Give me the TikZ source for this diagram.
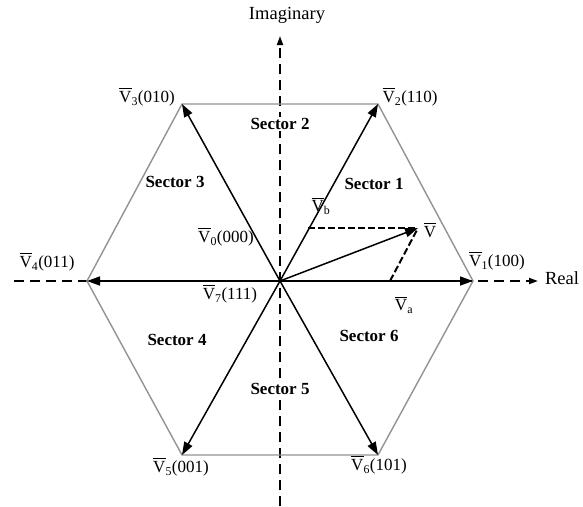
\documentclass[tikz,border=0pt]{standalone}
\usepackage{fontspec}
\setmainfont{Liberation Serif}
\usetikzlibrary{arrows.meta}
\newcommand{\ovV}{$\overline{\mbox{\rule{0pt}{1.62ex}V}}$}
\newcommand{\vlab}[1]{\ovV\textsubscript{#1}}
\begin{document}
\begin{tikzpicture}[x=1pt,y=-1pt,
  hexline/.style={draw=gray!85, line width=1.4pt},
  vecarrow/.style={draw=black, line width=1.5pt, -{Triangle[length=13pt,width=9pt]}},
  axisline/.style={draw=black, line width=1.8pt, dash pattern=on 10pt off 6pt},
  helper/.style={draw=black, line width=2pt, dash pattern=on 7pt off 3pt},
  lab/.style={font=\fontsize{17}{20}\selectfont, inner sep=1pt},
  axlab/.style={font=\fontsize{18.5}{22}\selectfont, inner sep=1pt},
  sec/.style={font=\bfseries\fontsize{17}{20}\selectfont, inner sep=1pt}]
\useasboundingbox (0,0) rectangle (583,506);
\fill[white] (0,0) rectangle (583,506);
% coordinates
\coordinate (O) at (280,281);
\coordinate (P1) at (473,281);
\coordinate (P2) at (378,104);
\coordinate (P3) at (182,104);
\coordinate (P4) at (87,281);
\coordinate (P5) at (182,455);
\coordinate (P6) at (378,455);
\coordinate (Vt) at (418,228);
\coordinate (Vbp) at (308,228);
\coordinate (Vap) at (390,281);
\coordinate (Ybot) at (280,506);
\coordinate (Ytop) at (280,36);
\coordinate (Xl) at (14,281);
\coordinate (Xr) at (538,281);
% axes
\draw[axisline, -{Triangle[length=9pt,width=6pt]}] (Ybot) -- (Ytop);
\draw[axisline, -{Triangle[length=9pt,width=6pt]}] (Xl) -- (Xr);
% hexagon
\draw[hexline] (P1) -- (P2) -- (P3) -- (P4) -- (P5) -- (P6) -- cycle;
% vectors
\foreach \p in {P1,P2,P3,P4,P5,P6} \draw[vecarrow] (O) -- (\p);
\draw[helper] (Vbp) -- (Vt);
\draw[helper] (Vap) -- (Vt);
\draw[vecarrow] (O) -- (Vt);
% labels
\node[axlab] (im) at (287,15) {Imaginary};
\node[axlab] (re) at (562,278) {Real};
\node[lab] (l1) at (497,261) {\vlab{1}(100)};
\node[lab] (l2) at (410,97) {\vlab{2}(110)};
\node[lab] (l3) at (147,97) {\vlab{3}(010)};
\node[lab] (l4) at (47,262) {\vlab{4}(011)};
\node[lab] (l5) at (181,467) {\vlab{5}(001)};
\node[lab] (l6) at (379,465) {\vlab{6}(101)};
\node[lab] (l0) at (226,237) {\vlab{0}(000)};
\node[lab] (l7) at (230,294) {\vlab{7}(111)};
\node[lab] (lv) at (430,230) {\ovV};
\node[lab] (lvb) at (321,206) {\vlab{b}};
\node[lab] (lva) at (404,305) {\vlab{a}};
\node[sec] (s1) at (374,184) {Sector 1};
\node[sec, fill=white] (s2) at (280,124) {Sector 2};
\node[sec] (s3) at (175,182) {Sector 3};
\node[sec] (s4) at (177,340) {Sector 4};
\node[sec, fill=white] (s5) at (280,389) {Sector 5};
\node[sec] (s6) at (369,336) {Sector 6};
\end{tikzpicture}
\end{document}
